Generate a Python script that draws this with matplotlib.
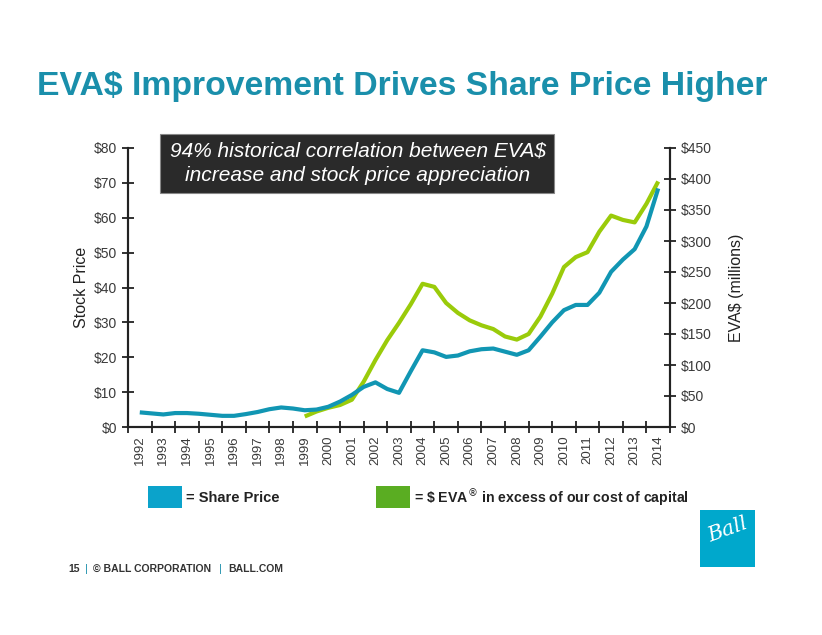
import numpy as np
import matplotlib
matplotlib.use('Agg')
import matplotlib.pyplot as plt
from matplotlib.patches import Rectangle

plt.rcParams['font.family'] = ['Liberation Sans', 'DejaVu Sans']

# half-year samples
price_years = np.arange(1992, 2014.5, 0.5)
share_price = [4.2, 3.9, 3.6, 4.0, 4.0, 3.8, 3.5, 3.2, 3.2, 3.7,
               4.3, 5.1, 5.6, 5.3, 4.8, 5.0, 5.8, 7.3, 9.2, 11.5,
               12.8, 10.9, 9.8, 16.0, 22.0, 21.4, 20.1, 20.5, 21.7, 22.3,
               22.5, 21.6, 20.7, 22.0, 25.9, 30.0, 33.5, 35.0, 35.0, 38.5,
               44.5, 48.0, 51.0, 57.5, 68.4]

eva_years = np.arange(1999, 2014.5, 0.5)
eva = [17, 25, 31, 35.5, 44, 73, 108, 140, 168, 198,
       231, 226, 200, 184, 172, 164, 158, 146, 141, 150,
       178, 215, 258, 274, 282, 315, 341, 334, 330, 360, 396]

year_labels = [str(y) for y in range(1992, 2015)]
left_ticks = [0, 10, 20, 30, 40, 50, 60, 70, 80]
right_ticks = [0, 50, 100, 150, 200, 250, 300, 350, 400, 450]

BLUE = '#1196b3'
GREEN = '#9acb0a'
TEAL = '#1a8fab'
GREY = '#3a3a3a'

fig = plt.figure(figsize=(8.22, 6.35), dpi=100)
ax = fig.add_axes([128 / 822, 1 - 427 / 635, 542 / 822, 279 / 635])
ax2 = ax.twinx()

ax2.plot(eva_years, eva, color=GREEN, lw=3, solid_capstyle='butt', solid_joinstyle='round')
ax.plot(price_years, share_price, color=BLUE, lw=3, solid_capstyle='butt', solid_joinstyle='round')
ax.set_zorder(ax2.get_zorder() + 1)
ax.patch.set_visible(False)

ax.set_xlim(1991.5, 2014.5)
ax.set_ylim(0, 80)
ax2.set_ylim(0, 450)

# category boundaries get the ticks, labels sit in between
ax.set_xticks(np.arange(1991.5, 2015, 1.0))
ax.set_xticklabels([])
ax.set_xticks(np.arange(1992, 2015), minor=True)
ax.set_xticklabels(year_labels, minor=True, rotation=90, fontsize=9.5, color=GREY)
ax.tick_params(axis='x', which='major', direction='inout', length=8, width=1.3, color='#222222')
ax.tick_params(axis='x', which='minor', length=0, pad=6)

ax.set_yticks(left_ticks)
ax.set_yticklabels(['$' + str(v) for v in left_ticks], fontsize=10, color=GREY)
ax.tick_params(axis='y', direction='inout', length=8, width=1.3, color='#222222', pad=4)
ax2.set_yticks(right_ticks)
ax2.set_yticklabels(['$' + str(v) for v in right_ticks], fontsize=10, color=GREY)
ax2.tick_params(axis='y', direction='inout', length=8, width=1.3, color='#222222', pad=4)

for a in (ax, ax2):
    a.spines['top'].set_visible(False)
    for s in ('left', 'right', 'bottom'):
        a.spines[s].set_linewidth(1.5)
        a.spines[s].set_color('#222222')

ax.set_ylabel('Stock Price', fontsize=11.5, color='#222222', labelpad=3)
ax2.set_ylabel('EVA$ (millions)', fontsize=11.5, color='#222222', labelpad=12)

# title
fig.text(0.489, 1 - 86 / 635, 'EVA$ Improvement Drives Share Price Higher',
         ha='center', va='center', fontsize=24.3, fontweight='bold', color=TEAL)

# annotation box
fig.patches.append(Rectangle((160 / 822, 1 - 193 / 635), 394 / 822, 59 / 635,
                             transform=fig.transFigure, facecolor='#2a2a2a',
                             edgecolor='#888888', lw=0.8))
fig.text(358 / 822, 1 - 163 / 635,
         '94% historical correlation between EVA$\nincrease and stock price appreciation',
         ha='center', va='center', fontsize=15, style='italic', color='white',
         linespacing=1.4)

# legend boxes
fig.patches.append(Rectangle((148 / 822, 1 - 508 / 635), 34 / 822, 22 / 635,
                             transform=fig.transFigure, facecolor='#0ba3cb', edgecolor='none'))
fig.text(186 / 822, 1 - 498 / 635, '= Share Price', ha='left', va='center',
         fontsize=10.5, fontweight='bold', color='#222222')
fig.patches.append(Rectangle((376 / 822, 1 - 508 / 635), 34 / 822, 22 / 635,
                             transform=fig.transFigure, facecolor='#5aad22', edgecolor='none'))
fig.text(414 / 822, 1 - 498 / 635, r'= \$ EVA$^{\circledR}$ in excess of our cost of capital',
         ha='left', va='center', fontsize=10.2, fontweight='bold', color='#222222')

# footer
y_foot = 1 - 569 / 635
fig.text(68 / 822, y_foot, '15', ha='left', va='center', fontsize=7.5, fontweight='bold', color='#333333')
fig.text(85 / 822, y_foot, '|', ha='left', va='center', fontsize=8, color=TEAL)
fig.text(93 / 822, y_foot, '© BALL CORPORATION', ha='left', va='center', fontsize=7.5, fontweight='bold', color='#333333')
fig.text(219 / 822, y_foot, '|', ha='left', va='center', fontsize=8, color=TEAL)
fig.text(228 / 822, y_foot, 'BALL.COM', ha='left', va='center', fontsize=7.5, fontweight='bold', color='#333333')

# logo
fig.patches.append(Rectangle((700 / 822, 1 - 567 / 635), 55 / 822, 57 / 635,
                             transform=fig.transFigure, facecolor='#00a8cc', edgecolor='none'))
fig.text(728 / 822, 1 - 530 / 635, 'Ball', ha='center', va='center', fontsize=15,
         style='italic', family='DejaVu Serif', color='white', rotation=20)

fig.savefig('out.png', dpi=100)
